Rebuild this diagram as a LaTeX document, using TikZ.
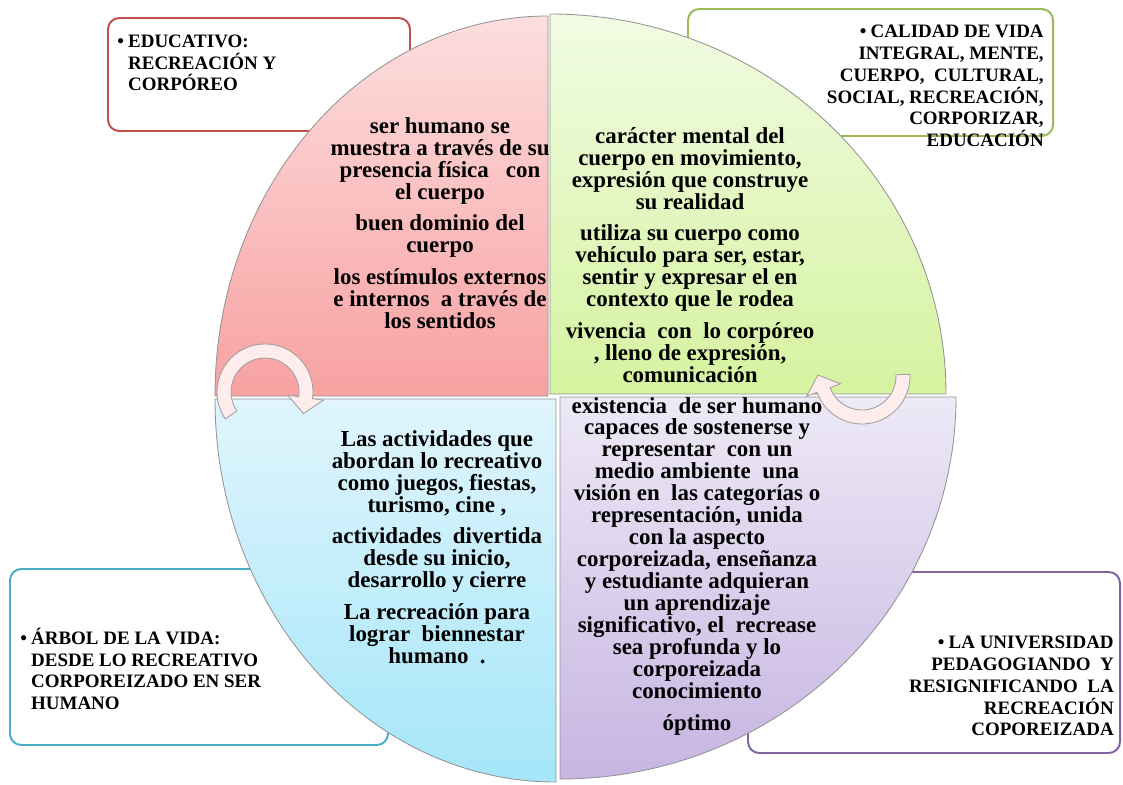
\documentclass[tikz,border=0pt]{standalone}
\usepackage{fontspec}
\setmainfont{Liberation Serif}
\definecolor{redline}{HTML}{C0504D}
\definecolor{greenline}{HTML}{9BBB59}
\definecolor{blueline}{HTML}{4BACC6}
\definecolor{purpleline}{HTML}{8064A2}
\definecolor{pinktop}{HTML}{FDDEDE}
\definecolor{pinkbot}{HTML}{F8A1A1}
\definecolor{greentop}{HTML}{F1FBE3}
\definecolor{greenbot}{HTML}{D5F3A0}
\definecolor{bluetop}{HTML}{E0F5FD}
\definecolor{bluebot}{HTML}{A5E6F9}
\definecolor{lilactop}{HTML}{EDE9F6}
\definecolor{lilacbot}{HTML}{C7B5E2}
\newcommand\itemdot{\textbullet\kern3pt}
\begin{document}
\begin{tikzpicture}[x=0.025cm,y=-0.025cm,
  box/.style={rounded corners=8pt,fill=white,line width=1.4pt},
  label/.style={font=\fontsize{13.5}{15.5}\selectfont\bfseries,inner sep=0pt},
  quad/.style={draw=gray!85,line width=0.6pt},
  body/.style={font=\fontsize{16.3}{15.6}\selectfont\bfseries,align=center,inner sep=0pt},
  turn/.style={draw=gray!75,line width=0.6pt,fill=red!7}]
\useasboundingbox (0,0) rectangle (1123,784);
% corner boxes
\draw[box,draw=redline] (108,18) rectangle (410,131);
\draw[box,draw=greenline] (688,9) rectangle (1053,136);
\draw[box,draw=blueline] (10,569) rectangle (388,745);
\draw[box,draw=purpleline] (748,572) rectangle (1120,753);
\node[label,anchor=west,align=left] (educativo) at (117,63)
  {\itemdot EDUCATIVO:\\\phantom{\itemdot}RECREACIÓN Y\\\phantom{\itemdot}CORPÓREO};
\node[label,anchor=east,align=right] (calidad) at (1044,86)
  {\itemdot CALIDAD DE VIDA\\INTEGRAL, MENTE,\\CUERPO,\ \ CULTURAL,\\SOCIAL, RECREACIÓN,\\CORPORIZAR,\\EDUCACIÓN};
\node[label,anchor=west,align=left] (arbol) at (20,669)
  {\itemdot ÁRBOL DE LA VIDA:\\\phantom{\itemdot}DESDE LO RECREATIVO\\\phantom{\itemdot}CORPOREIZADO EN SER\\\phantom{\itemdot}HUMANO};
\node[label,anchor=east,align=right] (universidad) at (1114,686)
  {\itemdot LA UNIVERSIDAD\\PEDAGOGIANDO\ \ Y\\RESIGNIFICANDO\ \ LA\\RECREACIÓN\\COPOREIZADA};
% four quarters
\path[quad,top color=pinktop,bottom color=pinkbot] (548,396) -- (215,396)
  arc[start angle=180,end angle=270,x radius=333,y radius=380] -- cycle;
\path[quad,top color=greentop,bottom color=greenbot] (550,394) -- (550,14)
  arc[start angle=270,end angle=360,x radius=396,y radius=380] -- cycle;
\path[quad,top color=bluetop,bottom color=bluebot] (556,399) -- (556,782)
  arc[start angle=90,end angle=180,x radius=341,y radius=383] -- cycle;
\path[quad,top color=lilactop,bottom color=lilacbot] (560,397) -- (956,397)
  arc[start angle=0,end angle=90,x radius=396,y radius=382] -- cycle;
\node[body] (ser) at (440,223)
  {ser humano se\\muestra a través de su\\presencia física\ \ \ con\\el cuerpo\\[7pt]
   buen dominio del\\cuerpo\\[7pt]
   los estímulos externos\\e internos\ \ a través de\\los sentidos};
\node[body] (caracter) at (690,255)
  {carácter mental del\\cuerpo en movimiento,\\expresión que construye\\su realidad\\[7pt]
   utiliza su cuerpo como\\vehículo para ser, estar,\\sentir y expresar el en\\contexto que le rodea\\[7pt]
   vivencia\ \ con\ \ lo corpóreo\\, lleno de expresión,\\comunicación};
\node[body] (actividades) at (437,547)
  {Las actividades que\\abordan lo recreativo\\como juegos, fiestas,\\turismo, cine ,\\[7pt]
   actividades\ \ divertida\\desde su inicio,\\desarrollo y cierre\\[7pt]
   La recreación para\\lograr\ \ biennestar\\humano\ \ .};
\node[body] (existencia) at (697,566)
  {existencia\ \ de ser humano\\capaces de sostenerse y\\representar\ \ con un\\medio ambiente\ \ una\\
   visión en\ \ las categorías o\\representación, unida\\con la aspecto\\corporeizada, enseñanza\\
   y estudiante adquieran\\un aprendizaje\\significativo, el\ \ recrease\\sea profunda y lo\\
   corporeizada\\conocimiento\\[7pt]óptimo};
% turning arrows
\path[turn] (225.2,418.8) arc[start angle=146,end angle=368,radius=48]
  -- (323.4,400.2) -- (303.4,413.5) -- (287.8,395.2) -- (298.7,396.7)
  arc[start angle=368,end angle=146,radius=34] -- cycle;
\path[turn] (910,374.3) arc[start angle=-2,end angle=160,radius=48]
  -- (806.6,396.2) -- (818,375) -- (840.4,383.8) -- (830.1,387.6)
  arc[start angle=160,end angle=-2,radius=34] -- cycle;
\end{tikzpicture}
\end{document}
